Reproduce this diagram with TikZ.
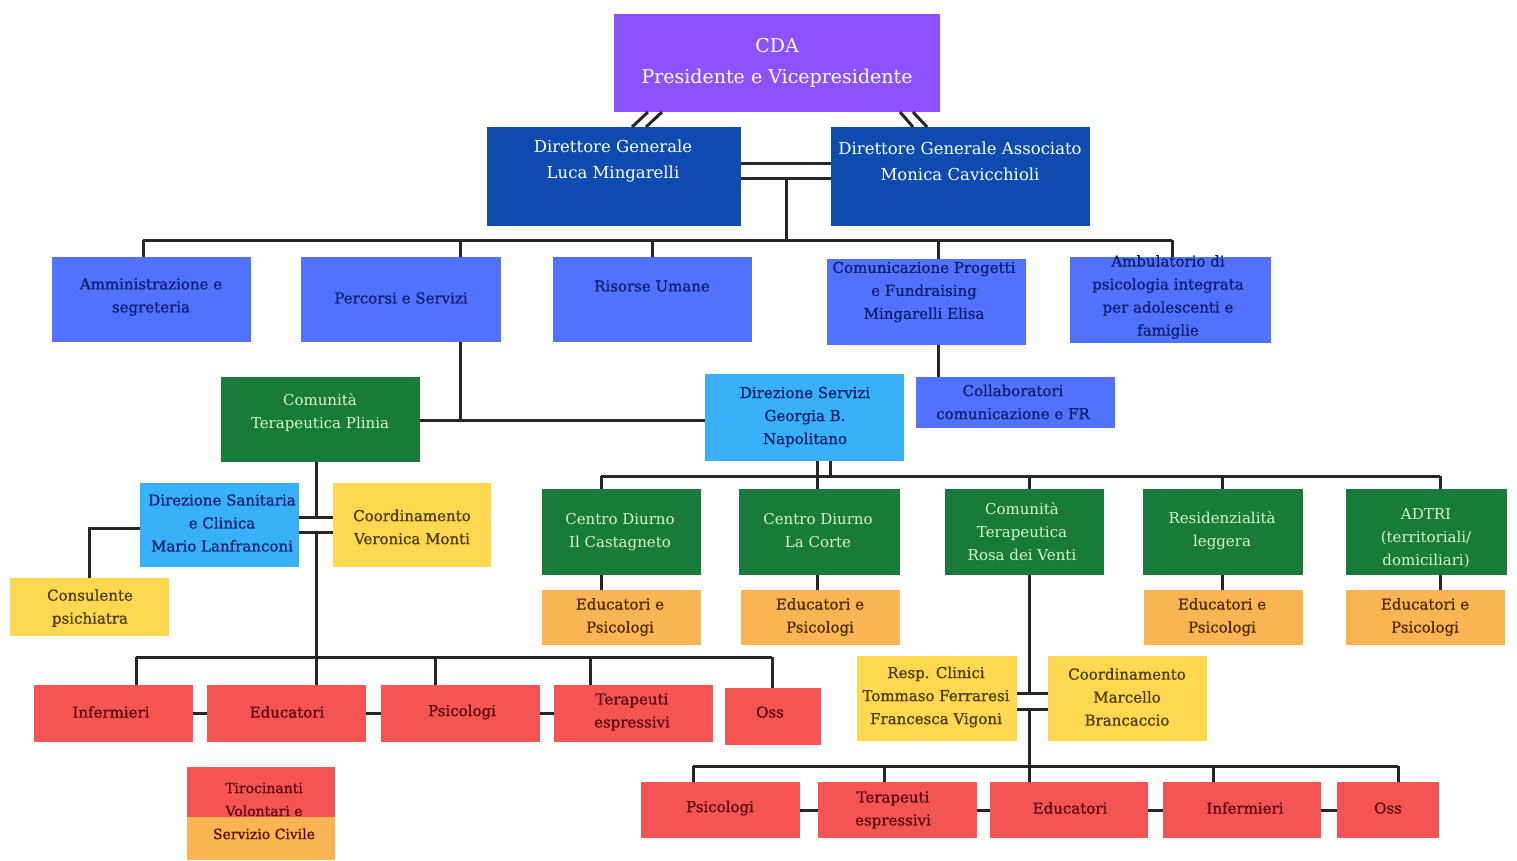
\documentclass[tikz,border=0pt]{standalone}
\usepackage{fontspec}
\setmainfont{DejaVu Serif}
\newfontface\dk{DejaVu Serif}[FakeBold=0.7]
\usetikzlibrary{calc}
\definecolor{cPurple}{HTML}{8C52FF}
\definecolor{cDark}{HTML}{0D4BAF}
\definecolor{cMid}{HTML}{5271FF}
\definecolor{cLight}{HTML}{38B0FA}
\definecolor{cGreen}{HTML}{187A3B}
\definecolor{cYellow}{HTML}{FDD850}
\definecolor{cOrange}{HTML}{F9B553}
\definecolor{cRed}{HTML}{F55454}
\definecolor{cLine}{HTML}{262626}
\definecolor{tNavy}{HTML}{0B1F6B}
\definecolor{tGreen}{HTML}{D8F5D0}
\definecolor{tYel}{HTML}{4A3A00}
\definecolor{tOr}{HTML}{4A2A00}
\definecolor{tRed}{HTML}{5A0A0A}
\tikzset{
  bx/.style={draw=none, inner sep=0pt, outer sep=0pt, rectangle},
  ln/.style={line width=3pt, draw=cLine},
  tx/.style={align=center, inner sep=0pt, font=\fontsize{15}{23}\selectfont},
  txd/.style={align=center, inner sep=0pt, font=\dk\fontsize{15}{23}\selectfont},
}
\newcommand\mybox[6]{%
  \pgfmathsetmacro\bw{#5-#3}\pgfmathsetmacro\bh{#6-#4}%
  \node[bx,fill=#2,minimum width=\bw pt,minimum height=\bh pt] (#1) at ({(#3+#5)/2},{(#4+#6)/2}) {};}
\begin{document}
\begin{tikzpicture}[x=1pt,y=-1pt]
\useasboundingbox[fill=white] (0,0) rectangle (1517,860);
% ---------- boxes ----------
\mybox{cda}{cPurple}{614}{14}{940}{112}
\mybox{dg}{cDark}{487}{127}{741}{226}
\mybox{dga}{cDark}{831}{127}{1090}{226}
\mybox{amm}{cMid}{52}{257}{251}{342}
\mybox{per}{cMid}{301}{257}{501}{342}
\mybox{ris}{cMid}{553}{257}{752}{342}
\mybox{com}{cMid}{827}{259}{1026}{345}
\mybox{amb}{cMid}{1070}{257}{1271}{343}
\mybox{pli}{cGreen}{221}{377}{420}{462}
\mybox{dse}{cLight}{705}{374}{904}{461}
\mybox{col}{cMid}{916}{377}{1115}{428}
\mybox{dsa}{cLight}{140}{483}{299}{567}
\mybox{coo1}{cYellow}{333}{483}{491}{567}
\mybox{cons}{cYellow}{10}{578}{169}{636}
\mybox{inf1}{cRed}{34}{685}{193}{742}
\mybox{edu1}{cRed}{207}{685}{366}{742}
\mybox{psi1}{cRed}{381}{685}{540}{742}
\mybox{ter1}{cRed}{554}{685}{713}{742}
\mybox{oss1}{cRed}{725}{688}{821}{745}
\mybox{tiroA}{cRed}{187}{767}{335}{817}
\mybox{tiroB}{cOrange}{187}{817}{335}{860}
\mybox{cas}{cGreen}{542}{489}{701}{575}
\mybox{cor}{cGreen}{739}{489}{900}{575}
\mybox{ros}{cGreen}{945}{489}{1104}{575}
\mybox{res}{cGreen}{1143}{489}{1303}{575}
\mybox{adt}{cGreen}{1346}{489}{1507}{575}
\mybox{ep1}{cOrange}{542}{590}{701}{645}
\mybox{ep2}{cOrange}{741}{590}{900}{645}
\mybox{ep3}{cOrange}{1144}{590}{1303}{645}
\mybox{ep4}{cOrange}{1346}{590}{1505}{645}
\mybox{resp}{cYellow}{857}{656}{1017}{741}
\mybox{coo2}{cYellow}{1048}{656}{1207}{741}
\mybox{psi2}{cRed}{641}{782}{800}{838}
\mybox{ter2}{cRed}{818}{782}{977}{838}
\mybox{edu2}{cRed}{990}{782}{1148}{838}
\mybox{inf2}{cRed}{1163}{782}{1321}{838}
\mybox{oss2}{cRed}{1337}{782}{1439}{838}
% ---------- texts ----------
\node[tx,text=white,font=\fontsize{19}{31}\selectfont] (cda-t) at (777,63) {CDA\\Presidente e Vicepresidente};
\node[tx,text=white,font=\fontsize{16.5}{26}\selectfont] (dg-t) at (613,161) {Direttore Generale\\Luca Mingarelli};
\node[tx,text=white,font=\fontsize{16.5}{26}\selectfont] (dga-t) at (960,161) {Direttore Generale Associato\\Monica Cavicchioli};
\node[txd,text=tNavy] (amm-t) at (151,297) {Amministrazione e\\segreteria};
\node[txd,text=tNavy] (per-t) at (401,298) {Percorsi e Servizi};
\node[txd,text=tNavy] (ris-t) at (652,286) {Risorse Umane};
\node[txd,text=tNavy] (com-t) at (924,292) {Comunicazione Progetti\\e Fundraising\\Mingarelli Elisa};
\node[txd,text=tNavy] (amb-t) at (1168,297) {Ambulatorio di\\psicologia integrata\\per adolescenti e\\famiglie};
\node[tx,text=tGreen] (pli-t) at (320,413) {Comunità\\Terapeutica Plinia};
\node[txd,text=tNavy] (dse-t) at (805,417) {Direzione Servizi\\Georgia B.\\Napolitano};
\node[txd,text=tNavy] (col-t) at (1013,402) {Collaboratori\\comunicazione e FR};
\node[txd,text=tNavy] (dsa-t) at (222,523) {Direzione Sanitaria\\e Clinica\\Mario Lanfranconi};
\node[txd,text=tYel] (coo1-t) at (412,527) {Coordinamento\\Veronica Monti};
\node[txd,text=tYel] (cons-t) at (90,608) {Consulente\\psichiatra};
\node[txd,text=tRed] (inf1-t) at (111,712) {Infermieri};
\node[txd,text=tRed] (edu1-t) at (287,712) {Educatori};
\node[txd,text=tRed] (psi1-t) at (462,712) {Psicologi};
\node[txd,text=tRed] (ter1-t) at (632,712) {Terapeuti\\espressivi};
\node[txd,text=tRed] (oss1-t) at (770,712) {Oss};
\node[txd,text=tRed,font=\dk\fontsize{14}{23}\selectfont] (tiro-t) at (264,811) {Tirocinanti\\Volontari e\\Servizio Civile};
\node[tx,text=tGreen] (cas-t) at (620,532) {Centro Diurno\\Il Castagneto};
\node[tx,text=tGreen] (cor-t) at (818,531) {Centro Diurno\\La Corte};
\node[tx,text=tGreen] (ros-t) at (1022,532) {Comunità\\Terapeutica\\Rosa dei Venti};
\node[tx,text=tGreen] (res-t) at (1222,531) {Residenzialità\\leggera};
\node[tx,text=tGreen] (adt-t) at (1426,538) {ADTRI\\(territoriali/\\domiciliari)};
\node[txd,text=tOr] (ep1-t) at (620,617) {Educatori e\\Psicologi};
\node[txd,text=tOr] (ep2-t) at (820,617) {Educatori e\\Psicologi};
\node[txd,text=tOr] (ep3-t) at (1222,617) {Educatori e\\Psicologi};
\node[txd,text=tOr] (ep4-t) at (1425,617) {Educatori e\\Psicologi};
\node[txd,text=tYel] (resp-t) at (936,697) {Resp. Clinici\\Tommaso Ferraresi\\Francesca Vigoni};
\node[txd,text=tYel] (coo2-t) at (1127,697) {Coordinamento\\Marcello\\Brancaccio};
\node[txd,text=tRed] (psi2-t) at (720,808) {Psicologi};
\node[txd,text=tRed] (ter2-t) at (893,810) {Terapeuti\\espressivi};
\node[txd,text=tRed] (edu2-t) at (1070,808) {Educatori};
\node[txd,text=tRed] (inf2-t) at (1245,808) {Infermieri};
\node[txd,text=tRed] (oss2-t) at (1388,808) {Oss};
% ---------- connector points ----------
\coordinate (j1) at (786,178);
\coordinate (bL) at (143,240);
\coordinate (t2) at (460,240);
\coordinate (t3) at (652,240);
\coordinate (t4) at (938,240);
\coordinate (bR) at (1172,240);
\coordinate (p1) at (460,420);
\coordinate (v1) at (316,517);
\coordinate (v2) at (316,532);
\coordinate (k1) at (89,528);
\coordinate (lbL) at (136,657);
\coordinate (lb3) at (435,657);
\coordinate (lb4) at (590,657);
\coordinate (lbR) at (772,657);
\coordinate (s1) at (817,476);
\coordinate (s2) at (830,476);
\coordinate (gL) at (601,476);
\coordinate (g3) at (1029,476);
\coordinate (g4) at (1222,476);
\coordinate (gR) at (1440,476);
\coordinate (r1) at (1029,693);
\coordinate (r2) at (1029,709);
\coordinate (rbL) at (693,766);
\coordinate (rb2) at (884,766);
\coordinate (rb4) at (1213,766);
\coordinate (rbR) at (1398,766);
% ---------- connectors ----------
\draw[ln] ($(dg.north west)+(145,0)$) -- ($(cda.south west)+(34,0)$);
\draw[ln] ($(dg.north west)+(159,0)$) -- ($(cda.south west)+(48,0)$);
\draw[ln] ($(cda.south west)+(286,0)$) -- ($(dga.north west)+(82,0)$);
\draw[ln] ($(cda.south west)+(299,0)$) -- ($(dga.north west)+(96,0)$);
\draw[ln] ($(dg.north east)+(0,36)$) -- ($(dga.north west)+(0,36)$);
\draw[ln] (dg.east |- j1) -- (dga.west |- j1);
\draw[ln] (j1) -- (j1 |- bL);
\draw[ln] (bL) -- (bR);
\draw[ln] (bL) -- (bL |- amm.north);
\draw[ln] (t2) -- (t2 |- per.north);
\draw[ln] (t3) -- (t3 |- ris.north);
\draw[ln] (t4) -- (t4 |- com.north);
\draw[ln] (bR) -- (bR |- amb.north);
\draw[ln] (t2 |- per.south) -- (p1);
\draw[ln] (pli.east |- p1) -- (dse.west |- p1);
\draw[ln] (t4 |- com.south) -- (t4 |- col.north);
% Plinia branch
\draw[ln] (v1 |- pli.south) -- (v1);
\draw[ln] (dsa.east |- v1) -- (coo1.west |- v1);
\draw[ln] (dsa.east |- v2) -- (coo1.west |- v2);
\draw[ln] (v2) -- (v2 |- edu1.north);
\draw[ln] (dsa.west |- k1) -- (k1) -- (k1 |- cons.north);
\draw[ln] (lbL) -- (lbR);
\draw[ln] (lbL) -- (lbL |- inf1.north);
\draw[ln] (lb3) -- (lb3 |- psi1.north);
\draw[ln] (lb4) -- (lb4 |- ter1.north);
\draw[ln] (lbR) -- (lbR |- oss1.north);
\draw[ln] (inf1) -- (edu1);
\draw[ln] (edu1) -- (psi1);
\draw[ln] (psi1) -- (ter1);
% Direzione Servizi branch
\draw[ln] (s1 |- dse.south) -- (s1 |- cor.north);
\draw[ln] (s2 |- dse.south) -- (s2);
\draw[ln] (gL) -- (gR);
\draw[ln] (gL) -- (gL |- cas.north);
\draw[ln] (g3) -- (g3 |- ros.north);
\draw[ln] (g4) -- (g4 |- res.north);
\draw[ln] (gR) -- (gR |- adt.north);
\draw[ln] (gL |- cas.south) -- (gL |- ep1.north);
\draw[ln] (s1 |- cor.south) -- (s1 |- ep2.north);
\draw[ln] (g4 |- res.south) -- (g4 |- ep3.north);
\draw[ln] (gR |- adt.south) -- (gR |- ep4.north);
% Rosa dei Venti branch
\draw[ln] (r1 |- ros.south) -- (r1);
\draw[ln] (resp.east |- r1) -- (coo2.west |- r1);
\draw[ln] (resp.east |- r2) -- (coo2.west |- r2);
\draw[ln] (r2) -- (r2 |- edu2.north);
\draw[ln] (rbL) -- (rbR);
\draw[ln] (rbL) -- (rbL |- psi2.north);
\draw[ln] (rb2) -- (rb2 |- ter2.north);
\draw[ln] (rb4) -- (rb4 |- inf2.north);
\draw[ln] (rbR) -- (rbR |- oss2.north);
\draw[ln] (psi2) -- (ter2);
\draw[ln] (ter2) -- (edu2);
\draw[ln] (edu2) -- (inf2);
\draw[ln] (inf2) -- (oss2);
\end{tikzpicture}
\end{document}
